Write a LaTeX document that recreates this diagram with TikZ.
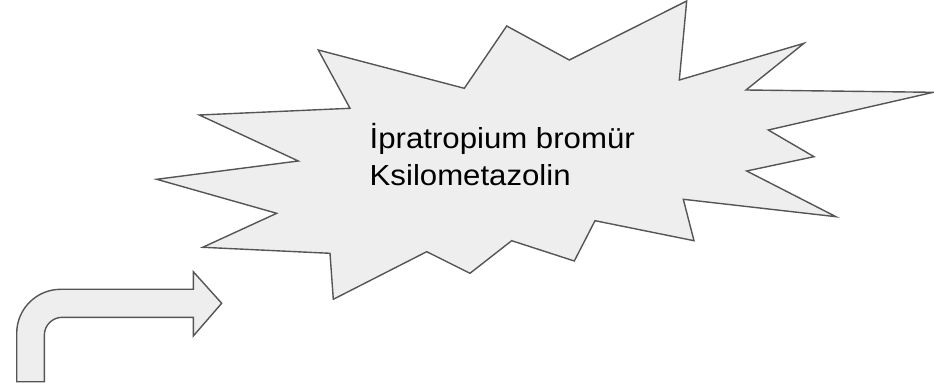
\documentclass[tikz,border=0pt]{standalone}
\usepackage{fontspec}
\setmainfont{Liberation Sans}
\definecolor{shapefill}{HTML}{EEEEEE}
\definecolor{shapeline}{HTML}{555555}
\tikzset{
  shapestyle/.style={fill=shapefill, draw=shapeline, line width=1.4pt, line join=miter},
  labeltext/.style={inner sep=0pt, anchor=base west, align=left, text=black}
}
\begin{document}
\begin{tikzpicture}[x=1pt,y=-1pt]
\useasboundingbox (0,0) rectangle (934,387);
% burst
\draw[shapestyle] (506.7,26) -- (569.3,60) -- (686.7,1) -- (679.3,80) -- (804,43.3) -- (746,90)
  -- (933.3,92.3) -- (768.3,130) -- (814,156.7) -- (746.7,171) -- (836,216.7) -- (683.3,199.3)
  -- (694,240.7) -- (595,220.7) -- (574.3,261) -- (511.7,240.7) -- (470,273.3) -- (426.7,251.7)
  -- (333.3,299.3) -- (330,253.3) -- (202.7,247.3) -- (276.7,213.3) -- (156.7,179.3) -- (298.3,161)
  -- (199.3,115) -- (350,108.3) -- (318.3,50) -- (464.3,88.3) -- cycle;
\node[labeltext] (txt) at (369.5,148.5) {\scalebox{1.075}[1]{\fontsize{29}{37}\selectfont\begin{tabular}[t]{@{}l@{}}İpratropium bromür\\Ksilometazolin\end{tabular}}};
% bent arrow
\draw[shapestyle] (16.7,381.7) -- (16.7,333.3) arc[start angle=180, end angle=270, radius=44]
  -- (193.3,289.3) -- (193.3,271.7) -- (221.7,303.3) -- (193.3,336) -- (193.3,317.3)
  -- (62.3,317.3) arc[start angle=270, end angle=180, radius=18]
  -- (44.3,381.7) -- cycle;
\end{tikzpicture}
\end{document}
